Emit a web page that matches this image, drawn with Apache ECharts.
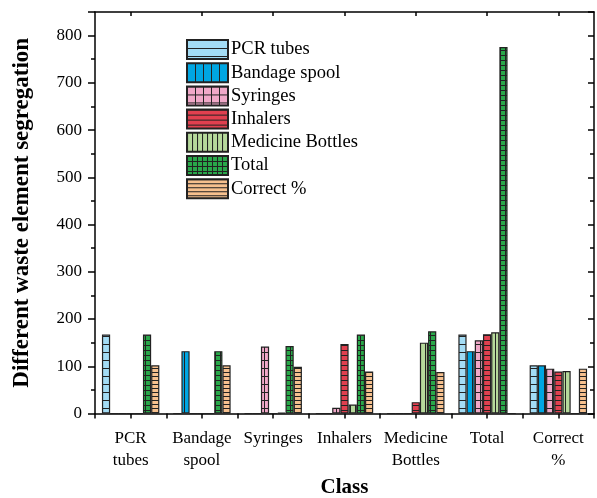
<!DOCTYPE html>
<html>
<head>
<meta charset="UTF-8">
<title>Waste segregation</title>
<script src="https://cdn.jsdelivr.net/npm/echarts@6/dist/echarts.min.js"></script>
<style>
  html, body { margin: 0; padding: 0; background: #fff; }
</style>
</head>
<body>
<div id="main" style="width: 597px; height: 498px;"></div>
<script>
// data
const categories = ['PCR\ntubes', 'Bandage\nspool', 'Syringes', 'Inhalers', 'Medicine\nBottles', 'Total', 'Correct\n%'];
const seriesNames = ['PCR tubes', 'Bandage spool', 'Syringes', 'Inhalers', 'Medicine Bottles', 'Total', 'Correct %'];
const pcrTubes = [167, 0, 0, 0, 0, 167, 102];
const bandageSpool = [0, 132, 0, 0, 0, 132, 102];
const syringes = [0, 0, 142, 12, 0, 155, 95];
const inhalers = [0, 0, 0, 147, 24, 168, 89];
const medicineBottles = [0, 0, 2, 19, 150, 172, 90];
const total = [167, 132, 143, 167, 174, 776, 0];
const correctPct = [102, 102, 99, 89, 88, 0, 95];

const values = [pcrTubes, bandageSpool, syringes, inhalers, medicineBottles, total, correctPct];

// fill colour + hatch kind + spacing
const looks = [
  { fill: '#a3dcf5', kind: 'h', step: 8 },
  { fill: '#00a6e2', kind: 'v', step: 8 },
  { fill: '#f0a8c8', kind: 'g', step: 8 },
  { fill: '#e0404f', kind: 'h', step: 5 },
  { fill: '#b6d99b', kind: 'v', step: 5 },
  { fill: '#29a84a', kind: 'g', step: 5 },
  { fill: '#f6c08e', kind: 'h', step: 4 }
];

function hatch(fill, kind, step) {
  const c = document.createElement('canvas');
  c.width = step; c.height = step;
  const ctx = c.getContext('2d');
  ctx.fillStyle = fill;
  ctx.fillRect(0, 0, step, step);
  ctx.strokeStyle = '#222';
  ctx.lineWidth = 1;
  ctx.beginPath();
  if (kind === 'h' || kind === 'g') { ctx.moveTo(0, 0.5); ctx.lineTo(step, 0.5); }
  if (kind === 'v' || kind === 'g') { ctx.moveTo(0.5, 0); ctx.lineTo(0.5, step); }
  ctx.stroke();
  return { image: c, repeat: 'repeat' };
}

const serif = 'Liberation Serif';

const chart = echarts.init(document.getElementById('main'), null, { renderer: 'canvas' });

const series = seriesNames.map((name, i) => ({
  name: name,
  type: 'bar',
  xAxisIndex: 0,
  yAxisIndex: 0,
  barWidth: 8.2,
  barGap: '0%',
  data: values[i],
  itemStyle: {
    color: hatch(looks[i].fill, looks[i].kind, looks[i].step),
    borderColor: '#222',
    borderWidth: 1.2
  }
}));

const option = {
  animation: false,
  textStyle: { fontFamily: serif, color: '#000' },
  grid: { left: 95, right: 3, top: 12, bottom: 84.5, containLabel: false, outerBoundsMode: 'none' },
  legend: {
    orient: 'vertical',
    left: 181,
    top: 34,
    itemWidth: 41,
    itemHeight: 19,
    itemGap: 2.2,
    icon: 'rect',
    textStyle: { fontFamily: serif, fontSize: 18.5, lineHeight: 20, color: '#000', padding: [0, 0, 0, -2] },
    data: seriesNames
  },
  xAxis: [
    {
      type: 'category',
      data: categories,
      position: 'bottom',
      name: 'Class',
      nameLocation: 'middle',
      nameGap: 64,
      nameTextStyle: { fontFamily: serif, fontSize: 21, fontWeight: 'bold', color: '#000' },
      axisLine: { lineStyle: { color: '#000', width: 1.5 } },
      axisTick: { show: true, length: 5, lineStyle: { color: '#000', width: 1.5 } },
      axisLabel: { fontFamily: serif, fontSize: 17, color: '#000', margin: 14, lineHeight: 22, interval: 0 }
    },
    {
      type: 'category',
      data: categories,
      position: 'bottom',
      axisLine: { show: false },
      axisTick: { show: true, alignWithLabel: true, length: 5, lineStyle: { color: '#000', width: 1.5 } },
      axisLabel: { show: false }
    },
    {
      type: 'category',
      data: categories,
      position: 'top',
      axisLine: { lineStyle: { color: '#000', width: 1.5 } },
      axisTick: { show: true, inside: true, alignWithLabel: true, length: 4, lineStyle: { color: '#000', width: 1.5 } },
      axisLabel: { show: false }
    }
  ],
  yAxis: [
    {
      type: 'value',
      min: 0,
      max: 850,
      interval: 100,
      name: 'Different waste element segregation',
      nameLocation: 'middle',
      nameGap: 61,
      nameTextStyle: { fontFamily: serif, fontSize: 23, fontWeight: 'bold', color: '#000' },
      axisLine: { show: true, lineStyle: { color: '#000', width: 1.5 } },
      axisTick: { show: true, length: 7, lineStyle: { color: '#000', width: 1.5 } },
      minorTick: { show: true, splitNumber: 2, length: 4, lineStyle: { color: '#000', width: 1.5 } },
      splitLine: { show: false },
      axisLabel: { fontFamily: serif, fontSize: 17, color: '#000', margin: 13, showMaxLabel: false }
    },
    {
      type: 'value',
      min: 0,
      max: 850,
      interval: 100,
      position: 'right',
      axisLine: { show: true, lineStyle: { color: '#000', width: 1.5 } },
      axisTick: { show: true, inside: true, length: 6, lineStyle: { color: '#000', width: 1.5 } },
      minorTick: { show: true, splitNumber: 2, length: 4, lineStyle: { color: '#000', width: 1.5 } },
      splitLine: { show: false },
      axisLabel: { show: false }
    }
  ],
  series: series
};

chart.setOption(option);
</script>
</body>
</html>
